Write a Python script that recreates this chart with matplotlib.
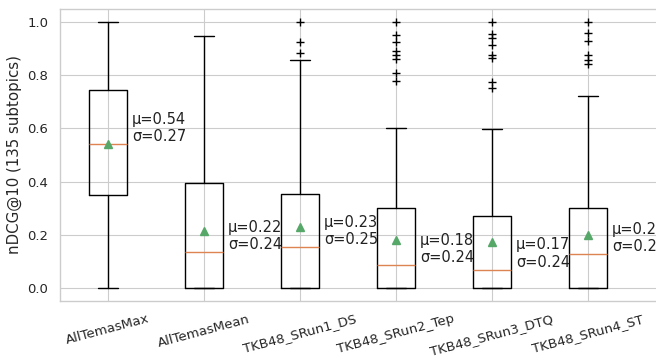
import matplotlib
matplotlib.use("Agg")
import matplotlib.pyplot as plt
import seaborn as sns

sns.set_theme(style="whitegrid", context="paper")
plt.rcParams['font.family'] = ['DejaVu Sans']

labels = ["AllTemasMax", "AllTemasMean", "TKB48_SRun1_DS", "TKB48_SRun2_Tep",
          "TKB48_SRun3_DTQ", "TKB48_SRun4_ST"]
q1 = [0.351, 0.0, 0.0, 0.0, 0.0, 0.0]
med = [0.541, 0.134, 0.153, 0.085, 0.068, 0.126]
q3 = [0.746, 0.396, 0.354, 0.299, 0.270, 0.301]
whislo = [0.0, 0.0, 0.0, 0.0, 0.0, 0.0]
whishi = [1.0, 0.948, 0.858, 0.603, 0.598, 0.723]
means = [0.54, 0.215, 0.230, 0.180, 0.174, 0.200]
stds = [0.27, 0.24, 0.25, 0.24, 0.24, 0.24]
fliers = [
    [],
    [],
    [1.0, 0.925, 0.886],
    [1.0, 0.953, 0.924, 0.890, 0.877, 0.861, 0.808, 0.777],
    [1.0, 0.954, 0.939, 0.914, 0.877, 0.865, 0.774, 0.753],
    [1.0, 0.961, 0.928, 0.877, 0.858, 0.843],
]
mu_text = ["0.54", "0.22", "0.23", "0.18", "0.17", "0.2"]
sd_text = ["0.27", "0.24", "0.25", "0.24", "0.24", "0.24"]

W, H = 656, 362
fig = plt.figure(figsize=(W / 100, H / 100), dpi=100)
x_span = 6.4
ax = fig.add_axes([60 / W, 1 - 301 / H, x_span * 96 / W, (301 - 9) / H])

stats = []
for i in range(len(labels)):
    stats.append(dict(label=labels[i], q1=q1[i], med=med[i], q3=q3[i],
                      whislo=whislo[i], whishi=whishi[i], mean=means[i],
                      fliers=fliers[i]))

positions = list(range(1, len(labels) + 1))
ax.bxp(stats, positions=positions, widths=0.4, showmeans=True,
       flierprops=dict(marker='+', markeredgecolor='black', markersize=6),
       medianprops=dict(color='#dd8452', linewidth=1.0),
       meanprops=dict(marker='^', markerfacecolor='#55a868', markeredgecolor='#55a868', markersize=6),
       boxprops=dict(color='black', linewidth=1.0),
       whiskerprops=dict(color='black', linewidth=1.0),
       capprops=dict(color='black', linewidth=1.0))

for i, p in enumerate(positions):
    ax.text(p + 0.25, med[i], f"μ={mu_text[i]}\nσ={sd_text[i]}",
            fontsize=10.5, va='bottom', ha='left', color='#222222', clip_on=False)

ax.set_xlim(0.5, 0.5 + x_span)
ax.set_ylim(-0.05, 1.05)
ax.set_xticks(positions)
ax.set_xticklabels(labels, rotation=15, ha='center', fontsize=9.5)
ax.tick_params(axis='y', labelsize=9.5)
ax.set_yticks([0.0, 0.2, 0.4, 0.6, 0.8, 1.0])
ax.set_ylabel("nDCG@10 (135 subtopics)", fontsize=10.8)

fig.savefig("out.png", dpi=100)
